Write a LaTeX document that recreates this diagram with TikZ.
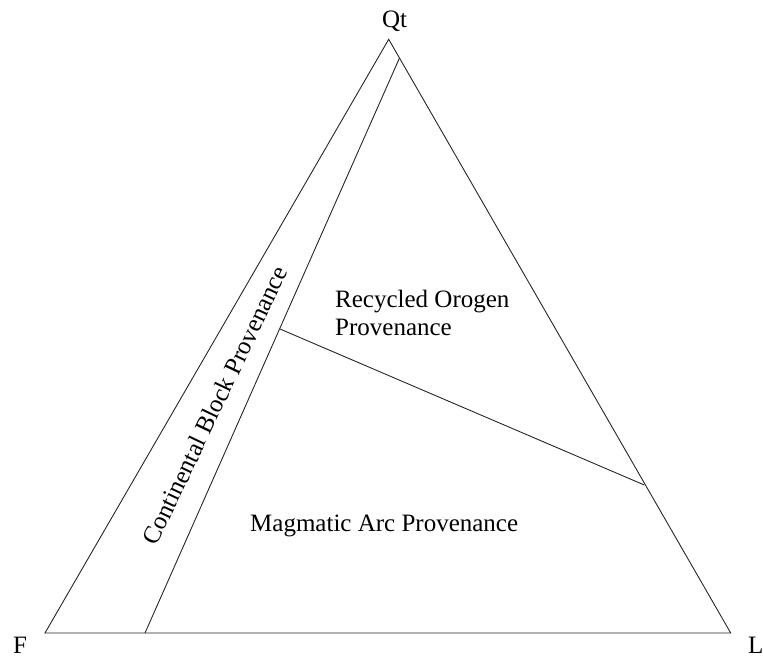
\documentclass[tikz,border=0pt]{standalone}
\usepackage{fontspec}
\setmainfont{Liberation Serif}
\usetikzlibrary{positioning}
\tikzstyle{fieldtext} = [inner sep=0pt, font=\fontsize{25}{28}\selectfont]
\tikzstyle{boundary} = [line width=0.9pt, black!85]

\begin{document}
\begin{tikzpicture}[x=1pt, y=-1pt]
        \useasboundingbox (0,0) rectangle (763,659);

        % corners of the QtFL triangle
        \coordinate (apex) at (388.7,39.3);
        \coordinate (fcorner) at (45,633);
        \coordinate (lcorner) at (730.7,633);

        % field boundaries
        \coordinate (cbtop) at (399.5,58);
        \coordinate (cbbase) at (145,633);
        \coordinate (rostart) at (280,329);
        \coordinate (roend) at (644.3,485);

        \node (qt) [fieldtext, anchor=base] at (394.5,27) {Qt};
        \node (f) [fieldtext, anchor=base west] at (13,653) {F};
        \node (l) [fieldtext, anchor=base west] at (748,653) {L};

        \draw [boundary] (fcorner) -- (apex) -- (lcorner) -- cycle;
        \draw [boundary] (cbbase) -- (cbtop);
        \draw [boundary] (rostart) -- (roend);

        \node (recycled) [fieldtext, anchor=base west, align=left] at (335,335) {Recycled Orogen\\Provenance};
        \node (magmatic) [fieldtext, anchor=base west] at (250,531.7) {Magmatic Arc Provenance};
        \node (continental) [fieldtext, anchor=base, rotate=64.5] at (222.5,409) {Continental Block Provenance};
    \end{tikzpicture}
\end{document}
